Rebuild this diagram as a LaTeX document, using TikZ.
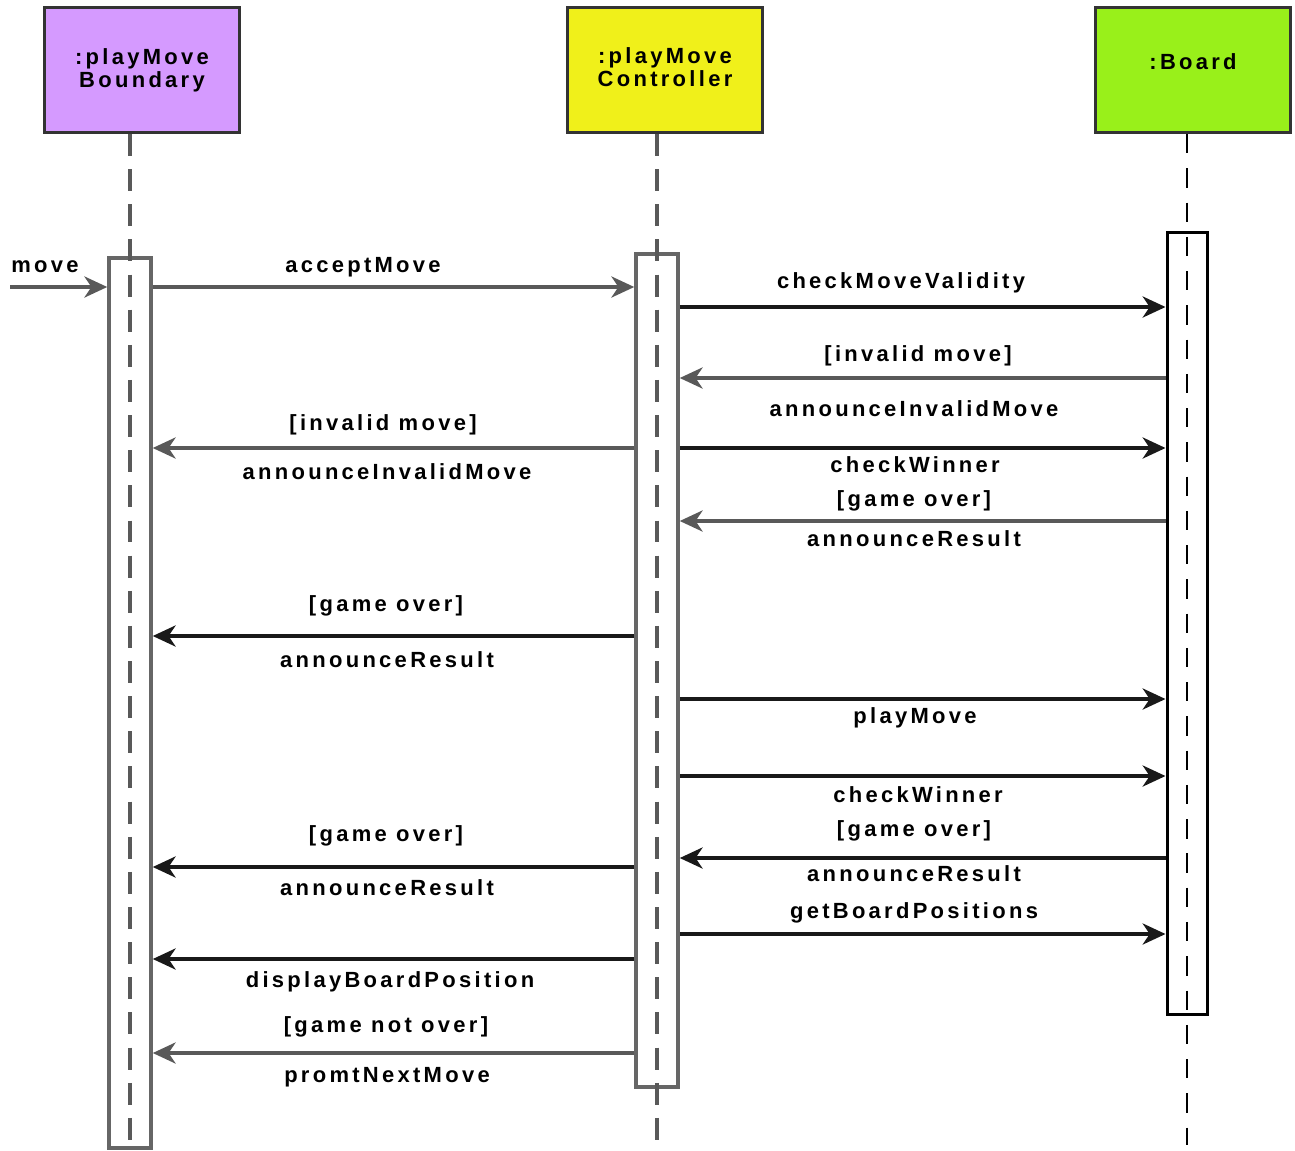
\documentclass[tikz,border=0pt]{standalone}
\usepackage{fontspec}
\newfontfamily\umlfont[LetterSpace=15]{Liberation Sans}
\usepackage{xcolor}
\usetikzlibrary{arrows.meta}
\definecolor{bndcol}{RGB}{213,154,255}
\definecolor{ctlcol}{RGB}{240,240,26}
\definecolor{brdcol}{RGB}{153,240,26}

\begin{document}
\begin{tikzpicture}[x=0.02cm,y=-0.02cm,
  >={Stealth[length=13pt,width=12pt,inset=4pt]},
  obj/.style={draw=black!80,line width=1.7pt,minimum width=3.9cm,minimum height=2.5cm,inner sep=0pt,align=center,font=\umlfont\bfseries\fontsize{12.5}{13}\selectfont},
  bar/.style={draw=black!60,line width=2pt,fill=white,minimum width=0.84cm,inner sep=0pt},
  life/.style={black!65,line width=2.2pt,dash pattern=on 12.5pt off 7.5pt},
  msg/.style={->,black!65,line width=2pt},
  msgdark/.style={->,black!90,line width=2pt},
  lbl/.style={font=\umlfont\bfseries\fontsize{12.5}{13}\selectfont,inner sep=0pt,text height=9pt,text depth=2.5pt}]
\useasboundingbox (0,0) rectangle (1295,1150);
% participants
\node[obj,fill=bndcol] (bnd) at (142,70) {:playMove\\Boundary};
\node[obj,fill=ctlcol,text depth=3pt] (ctl) at (665,70) {:playMove\\Controller};
\node[obj,fill=brdcol,text depth=10pt] (brd) at (1193,70) {:Board};
% activation bars
\node[bar,minimum height=17.8cm] (bndbar) at (130,703) {};
\node[bar,minimum height=16.66cm] (ctlbar) at (657,670.5) {};
\node[bar,draw=black,line width=1.7pt,minimum width=0.8cm,minimum height=15.66cm] (brdbar) at (1187,623.5) {};
% lifelines
\coordinate (bottom) at (0,1145);
\draw[life] (bndbar.north |- bnd.south) -- (bndbar.north |- 0,1150);
\draw[life,line width=1.8pt] (ctlbar.north |- ctl.south) -- (ctlbar.north |- bottom);
\draw[life,black,line width=1.2pt,dash pattern=on 11pt off 8.5pt] (brdbar.north |- brd.south) -- (brdbar.north |- bottom);
% messages
\coordinate (start) at (10,287);
\draw[msg] (start) -- (bndbar.west |- start);
\draw[msg] (bndbar.east |- 0,287) -- (ctlbar.west |- 0,287);
\draw[msgdark] (ctlbar.east |- 0,307) -- (brdbar.west |- 0,307);
\draw[msg] (brdbar.west |- 0,378) -- (ctlbar.east |- 0,378);
\draw[msg] (ctlbar.west |- 0,448) -- (bndbar.east |- 0,448);
\draw[msgdark] (ctlbar.east |- 0,448) -- (brdbar.west |- 0,448);
\draw[msg] (brdbar.west |- 0,521) -- (ctlbar.east |- 0,521);
\draw[msgdark] (ctlbar.west |- 0,636) -- (bndbar.east |- 0,636);
\draw[msgdark] (ctlbar.east |- 0,699) -- (brdbar.west |- 0,699);
\draw[msgdark] (ctlbar.east |- 0,776) -- (brdbar.west |- 0,776);
\draw[msgdark] (brdbar.west |- 0,858) -- (ctlbar.east |- 0,858);
\draw[msgdark] (ctlbar.west |- 0,867) -- (bndbar.east |- 0,867);
\draw[msgdark] (ctlbar.east |- 0,934) -- (brdbar.west |- 0,934);
\draw[msgdark] (ctlbar.west |- 0,959) -- (bndbar.east |- 0,959);
\draw[msg] (ctlbar.west |- 0,1053) -- (bndbar.east |- 0,1053);
% labels
\node[lbl] (lmove) at (45,267) {move};
\node[lbl] (laccept) at (363,267) {acceptMove};
\node[lbl] (lcheckvalid) at (901,283) {checkMoveValidity};
\node[lbl] (linvalidr) at (918,356) {[invalid move]};
\node[lbl] (lannouncer) at (914,411) {announceInvalidMove};
\node[lbl] (linvalidl) at (383,425) {[invalid move]};
\node[lbl] (lannouncel) at (387,474) {announceInvalidMove};
\node[lbl] (lwinnera) at (915,467) {checkWinner};
\node[lbl] (lovera) at (914,501) {[game over]};
\node[lbl] (lresulta) at (914,541) {announceResult};
\node[lbl] (loverb) at (386,606) {[game over]};
\node[lbl] (lresultb) at (387,662) {announceResult};
\node[lbl] (lplay) at (915,718) {playMove};
\node[lbl] (lwinnerb) at (918,797) {checkWinner};
\node[lbl] (loverc) at (914,831) {[game over]};
\node[lbl] (lresultc) at (914,876) {announceResult};
\node[lbl] (lpositions) at (914,913) {getBoardPositions};
\node[lbl] (loverd) at (386,836) {[game over]};
\node[lbl] (lresultd) at (387,890) {announceResult};
\node[lbl] (ldisplay) at (390,982) {displayBoardPosition};
\node[lbl] (lnotover) at (386,1027) {[game not over]};
\node[lbl] (lprompt) at (387,1077) {promtNextMove};
\end{tikzpicture}
\end{document}
